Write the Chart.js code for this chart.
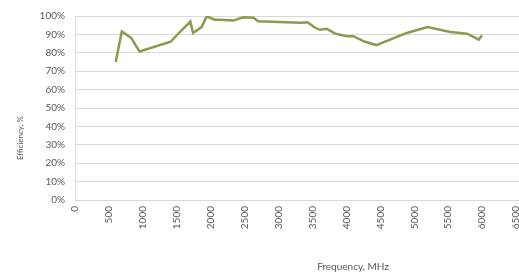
<!DOCTYPE html>
<html>
<head>
<meta charset="utf-8">
<script src="https://cdn.jsdelivr.net/npm/chart.js@4"></script>
<style>
html,body{margin:0;padding:0;background:#fff;overflow:hidden;width:519px;height:277px;}
#wrap{width:568px;height:277px;}
</style>
</head>
<body>
<div id="wrap"><canvas id="c" width="568" height="277"></canvas></div>
<script>
// Data
const frequencyMHz = [600, 690, 830, 950, 1410, 1545, 1700, 1740, 1865, 1940, 2060, 2140, 2330, 2480, 2630, 2700, 3320, 3425, 3540, 3610, 3710, 3835, 4005, 4100, 4275, 4440, 4890, 5195, 5530, 5780, 5950, 6000];
const efficiencyPct = [75, 91.6, 88, 80.7, 86, 91.3, 97, 90.8, 94, 99.8, 98, 98, 97.5, 99.3, 99, 97.2, 96.3, 96.6, 93.6, 92.5, 93, 90.4, 89, 89, 86, 84.2, 90.8, 94, 91.3, 90.4, 87.2, 89.5];
const yTicksPct = [0, 10, 20, 30, 40, 50, 60, 70, 80, 90, 100];
const xTickStep = 500;
const xTitle = "Frequency, MHz";
const yTitle = "Efficiency, %";

const points = frequencyMHz.map((f, i) => ({x: f, y: efficiencyPct[i]}));
const FONT = "Lato, 'Open Sans', sans-serif";
const TXT = "#595959";

const axisTitles = {
  id: 'axisTitles',
  afterDraw(chart) {
    const ctx = chart.ctx, a = chart.chartArea;
    ctx.save();
    ctx.fillStyle = TXT;
    ctx.textAlign = 'center';
    ctx.textBaseline = 'middle';
    ctx.font = "10px " + FONT;
    ctx.fillText(xTitle, a.left + 278, 267);
    ctx.translate(20, a.top + 122);
    ctx.rotate(-Math.PI / 2);
    ctx.font = "8px " + FONT;
    ctx.fillText(yTitle, 0, 0);
    ctx.restore();
  }
};

new Chart(document.getElementById('c'), {
  type: 'line',
  data: {
    datasets: [{
      data: points,
      borderColor: '#8c9a50',
      borderWidth: 2.5,
      pointRadius: 0,
      tension: 0,
      fill: false
    }]
  },
  options: {
    responsive: false,
    animation: false,
    layout: {padding: {top: 12, right: 10, bottom: 0, left: 0}},
    plugins: {legend: {display: false}, tooltip: {enabled: false}},
    scales: {
      x: {
        type: 'linear',
        min: 0, max: 7000,
        afterFit: s => { s.height = 77; },
        ticks: {stepSize: xTickStep, callback: v => String(v), minRotation: 90, maxRotation: 90, color: TXT, font: {family: FONT, size: 10}, padding: 6},
        grid: {display: false, drawTicks: false},
        border: {display: true, color: '#d9d9d9'}
      },
      y: {
        min: 0, max: 100,
        afterFit: s => { s.width = 75; },
        afterBuildTicks: s => { s.ticks = yTicksPct.map(v => ({value: v})); },
        ticks: {callback: v => v + '%', color: TXT, font: {family: FONT, size: 10}, padding: 10},
        grid: {color: '#d9d9d9', drawTicks: false},
        border: {display: true, color: '#d9d9d9'}
      }
    }
  },
  plugins: [axisTitles]
});
</script>
</body>
</html>
